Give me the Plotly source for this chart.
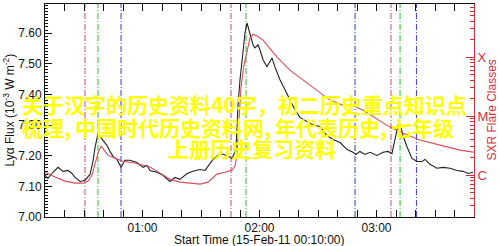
import plotly.graph_objects as go

DAY = "2011-02-15 "

# Ly-alpha flux (10^-3 W m^-2), black curve, left axis
lya_times = ["00:10:00","00:11:30","00:14:05","00:16:40","00:19:15","00:21:50","00:23:50","00:25:25",
             "00:28:00","00:30:30","00:33:05","00:34:35","00:35:35","00:36:40","00:37:10","00:38:10",
             "00:39:45","00:41:50","00:43:20","00:44:52","00:46:55","00:49:00","00:51:00","00:53:35",
             "00:57:10","01:00:15","01:02:20","01:03:50","01:07:25","01:10:30","01:14:05","01:16:40",
             "01:19:15","01:22:50","01:25:55","01:29:30","01:32:05","01:34:35","01:36:10","01:39:45",
             "01:43:20","01:45:55","01:47:55","01:49:00","01:50:00","01:51:30","01:52:35","01:53:35",
             "01:54:35","01:55:35","01:56:40","01:57:40","01:59:15","02:00:15","02:01:50","02:03:50",
             "02:05:25","02:06:25","02:07:55","02:10:30","02:13:05","02:15:35","02:18:10","02:20:45",
             "02:23:20","02:25:55","02:28:30","02:31:00","02:34:35","02:37:40","02:41:20","02:44:55",
             "02:47:55","02:49:30","02:51:30","02:54:05","02:56:40","03:00:15","03:03:20","03:05:55",
             "03:07:55","03:09:30","03:11:00","03:12:05","03:13:35","03:15:35","03:18:10","03:20:45",
             "03:23:20","03:24:55","03:27:25","03:31:00","03:34:05","03:37:40","03:41:20","03:44:25",
             "03:46:55","03:49:30"]
lya_flux = [7.136,7.126,7.146,7.162,7.149,7.152,7.142,7.129,
            7.116,7.120,7.139,7.181,7.224,7.263,7.272,7.263,
            7.250,7.233,7.214,7.198,7.188,7.162,7.185,7.185,
            7.178,7.162,7.168,7.152,7.146,7.136,7.116,7.129,
            7.123,7.142,7.149,7.155,7.152,7.172,7.188,7.207,
            7.201,7.191,7.220,7.367,7.448,7.536,7.601,7.633,
            7.610,7.584,7.562,7.552,7.562,7.545,7.513,7.490,
            7.506,7.519,7.490,7.448,7.415,7.383,7.350,7.325,
            7.315,7.305,7.299,7.295,7.266,7.253,7.243,7.220,
            7.211,7.204,7.214,7.204,7.211,7.201,7.211,7.214,
            7.207,7.253,7.299,7.302,7.266,7.230,7.191,7.181,
            7.181,7.188,7.172,7.159,7.162,7.159,7.152,7.149,
            7.142,7.146]

# GOES SXR flux (W m^-2), red curve, right axis (log)
sxr_times = ["00:10:00","00:15:08","00:20:15","00:25:25","00:29:30","00:32:03","00:34:06","00:35:35",
             "00:37:10","00:38:43","00:40:15","00:42:18","00:45:54","00:49:29","00:56:09","01:03:50",
             "01:09:00","01:14:05","01:19:15","01:24:21","01:29:30","01:33:35","01:36:10","01:38:12",
             "01:42:18","01:45:55","01:47:26","01:48:28","01:49:29","01:50:31","01:52:03","01:53:35",
             "01:55:08","01:56:40","01:58:43","02:01:50","02:05:25","02:09:00","02:15:35","02:22:18",
             "02:29:29","02:36:09","02:42:49","02:47:55","02:53:05","03:00:15","03:06:55","03:12:05",
             "03:17:10","03:22:18","03:32:34","03:42:49","03:49:30"]
sxr_flux = [1.12e-6,9.25e-7,7.91e-7,7.31e-7,7.31e-7,7.91e-7,1.0e-6,1.48e-6,
            2.36e-6,3.10e-6,2.65e-6,2.18e-6,1.94e-6,1.73e-6,1.60e-6,1.37e-6,
            1.08e-6,8.55e-7,7.60e-7,7.31e-7,7.03e-7,7.60e-7,8.89e-7,1.04e-6,
            1.12e-6,1.22e-6,1.42e-6,2.18e-6,8.55e-6,3.10e-5,7.31e-5,1.31e-4,
            2.10e-4,2.45e-4,2.27e-4,1.94e-4,1.42e-4,1.0e-4,6.02e-5,4.07e-5,
            2.76e-5,1.87e-5,1.53e-5,1.53e-5,1.26e-5,8.89e-6,6.51e-6,5.36e-6,
            4.58e-6,3.92e-6,3.22e-6,2.65e-6,2.45e-6]

# Event markers (flare start / Lya peak / end)
event_times = ["00:30:30","00:37:10","00:49:00","01:45:23","01:53:05","02:49:00","03:07:26","03:12:05","03:20:30"]
event_kinds = ["start","peak","end","start","peak","end","start","peak","end"]
kind_colors = {"start": "#c8607a", "peak": "#3cc43c", "end": "#4a4ac8"}

sxr_tick_vals = [1e-6, 1e-5, 1e-4]
sxr_tick_labels = ["C", "M", "X"]

watermark = ["关于汉字的历史资料40字，初二历史重点知识点",
             "梳理,\u2009中国时代历史资料网,\u2009年代表历史,\u2009七年级",
             "上册历史复习资料"]

FONT = "Liberation Sans, Arial, sans-serif"
RED = "#d0303a"

fig = go.Figure()
fig.add_trace(go.Scatter(x=[DAY + t for t in sxr_times], y=sxr_flux, yaxis="y2", mode="lines",
                         line=dict(color="#d2505a", width=1.1), showlegend=False))
fig.add_trace(go.Scatter(x=[DAY + t for t in lya_times], y=lya_flux, mode="lines",
                         line=dict(color="#222222", width=1.1), showlegend=False))

for t, k in zip(event_times, event_kinds):
    fig.add_shape(type="line", xref="x", yref="paper", x0=DAY + t, x1=DAY + t, y0=0, y1=1,
                  line=dict(color=kind_colors[k], width=1.1, dash="6px,2px,1px,2px"), layer="below")

fig.update_layout(
    width=500, height=246,
    margin=dict(l=45, r=26, t=4, b=29, autoexpand=False),
    paper_bgcolor="white", plot_bgcolor="white",
    font=dict(family=FONT, size=12, color="#111111"),
    xaxis=dict(type="date", range=[DAY + "00:10:00", DAY + "03:50:00"],
               tick0=DAY + "00:00:00", dtick=3600000, tickformat="%H:%M",
               ticks="inside", ticklen=7, tickcolor="#111", showgrid=False, zeroline=False,
               showline=True, linecolor="#111", linewidth=1, mirror="allticks",
               minor=dict(dtick=600000, ticks="inside", ticklen=4, tickcolor="#111", showgrid=False),
               automargin=False, tickfont=dict(size=12)),
    yaxis=dict(range=[7.0, 7.695], dtick=0.1, tick0=7.0, tickformat=".2f",
               ticks="inside", ticklen=7, tickcolor="#111", showgrid=False, zeroline=False,
               showline=True, linecolor="#111", linewidth=1,
               minor=dict(dtick=0.01, ticks="inside", ticklen=3, tickcolor="#111", showgrid=False),
               automargin=False, tickfont=dict(size=12)),
    yaxis2=dict(type="log", overlaying="y", side="right", range=[-6.71, -3.10],
                tickvals=sxr_tick_vals, ticktext=sxr_tick_labels,
                ticks="inside", ticklen=8, tickcolor=RED, showgrid=False, zeroline=False,
                showline=True, linecolor=RED, linewidth=1,
                minor=dict(ticks="inside", ticklen=4, tickcolor=RED, dtick="D1", showgrid=False),
                tickfont=dict(size=13, color=RED), automargin=False),
)

# axis titles
fig.add_annotation(text="Lyα Flux (10<sup>-3</sup> W m<sup>-2</sup>)", xref="paper", yref="paper",
                   x=0, y=0.5, xshift=-37, xanchor="center", yanchor="middle", textangle=-90,
                   showarrow=False, font=dict(family=FONT, size=12, color="#111"))
fig.add_annotation(text="SXR Flare Classes", xref="paper", yref="paper",
                   x=1, y=0.5, xshift=17, xanchor="center", yanchor="middle", textangle=-90,
                   showarrow=False, font=dict(family=FONT, size=12, color=RED))
fig.add_annotation(text="Start Time (15-Feb-11 00:10:00)", xref="paper", yref="paper",
                   x=0.5, y=0, yshift=-23, xanchor="center", yanchor="middle", showarrow=False,
                   font=dict(family=FONT, size=12, color="#111"))

# watermark text
wm_font = dict(family="Noto Sans CJK SC", size=21, color="#FFFF00", weight="bold")
fig.add_annotation(text=watermark[0], xref="paper", yref="paper", x=(20 - 45) / 429, y=(217 - 104) / 213,
                   xanchor="left", yanchor="middle", showarrow=False, font=wm_font)
fig.add_annotation(text=watermark[1], xref="paper", yref="paper", x=(20 - 45) / 429, y=(217 - 127) / 213,
                   xanchor="left", yanchor="middle", showarrow=False, font=wm_font)
fig.add_annotation(text=watermark[2], xref="paper", yref="paper", x=(252 - 45) / 429, y=(217 - 148) / 213,
                   xanchor="center", yanchor="middle", showarrow=False, font=wm_font)

fig.write_html("out.html")
